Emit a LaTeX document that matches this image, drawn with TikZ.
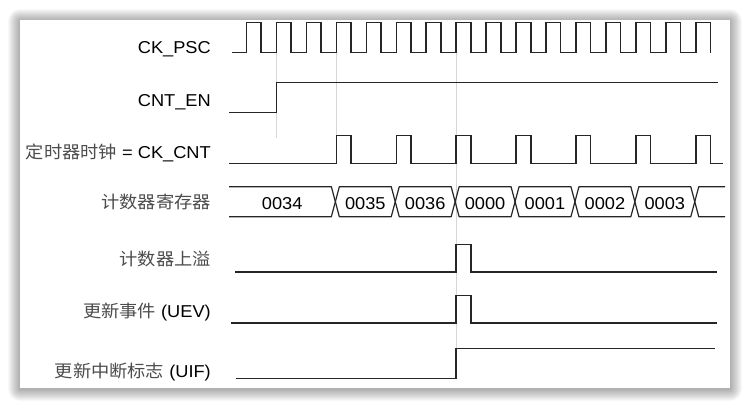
\documentclass[tikz,border=0pt]{standalone}
\usepackage{fontspec}
\setmainfont{Liberation Sans}
\newfontfamily\cjk{Noto Sans CJK SC}
\newcommand{\hsx}[1]{\scalebox{1.06}[1]{#1}}
\newcommand{\zh}[1]{{\color{black!70}\cjk #1}}
\begin{document}
\begin{tikzpicture}[x=1pt,y=-1pt,
  sig/.style={line width=1.5pt, draw=black!85},
  bus/.style={line width=1.2pt, draw=black!85, line join=round},
  guide/.style={line width=0.7pt, draw=black!16},
  lbl/.style={anchor=base east, inner sep=0pt, text=black, font=\fontsize{17.2}{19}\selectfont},
  val/.style={anchor=base, inner sep=0pt, text=black, font=\fontsize{17.2}{19}\selectfont}]
\useasboundingbox (0,0) rectangle (750,408);
\fill[white] (0,0) rectangle (750,408);
% soft shadow
\foreach \i in {1,...,12}{
  \fill[black,opacity=0.028,rounded corners=\i pt] ({20-\i},{21-\i}) rectangle ({730+\i},{389+\i});
}
\fill[white] (20,20) rectangle (730,388);

% guide lines
\draw[guide] (276.45,52.7) -- (276.45,138);
\draw[guide] (336.35,52.7) -- (336.35,135.7);
\draw[guide] (456.15,52.7) -- (456.15,378.3);

% labels
\node[lbl] (lpsc) at (211,53.3) {\hsx{CK\_PSC}};
\node[lbl] (len)  at (211,106) {\hsx{CNT\_EN}};
\node[lbl] (lcnt) at (211,158.3) {\hsx{\zh{定时器时钟} = CK\_CNT}};
\node[lbl] (lreg) at (211,208.8) {\hsx{\zh{计数器寄存器}}};
\node[lbl] (lovf) at (211,265.1) {\hsx{\zh{计数器上溢}}};
\node[lbl] (luev) at (211,317.3) {\hsx{\zh{更新事件} (UEV)}};
\node[lbl] (luif) at (211,377.7) {\hsx{\zh{更新中断标志} (UIF)}};

% CK_PSC
\draw[sig] (231.7,52.7)
  \foreach \k in {0,...,15}{
    -- ({246.5+29.95*\k},52.7) -- ({246.5+29.95*\k},22.7)
    -- ({261.2+29.95*\k},22.7) -- ({261.2+29.95*\k},52.7)
  };

% CNT_EN
\draw[sig] (229,112.7) -- (276.45,112.7) -- (276.45,82.7) -- (718.3,82.7);

% CK_CNT
\draw[sig] (229,163.3)
  \foreach \k in {3,5,...,15}{
    -- ({246.5+29.95*\k},163.3) -- ({246.5+29.95*\k},135.7)
    -- ({261.2+29.95*\k},135.7) -- ({261.2+29.95*\k},163.3)
  } -- (723.3,163.3);

% counter register bus
\draw[bus] (229,186.7) -- (331.35,186.7) -- (335.35,201.7) -- (331.35,216.7) -- (229,216.7);
\foreach \a/\b in {335.35/395.25, 395.25/455.15, 455.15/515.05, 515.05/574.95, 574.95/634.85, 634.85/694.75}{
  \draw[bus] (\a,201.7) -- ({\a+4},186.7) -- ({\b-4},186.7) -- (\b,201.7) -- ({\b-4},216.7) -- ({\a+4},216.7) -- cycle;
}
\draw[bus] (725,186.7) -- (698.75,186.7) -- (694.75,201.7) -- (698.75,216.7) -- (725,216.7);
\node[val] (v0) at (282.2,209) {\hsx{0034}};
\node[val] (v1) at (365.3,209) {\hsx{0035}};
\node[val] (v2) at (425.2,209) {\hsx{0036}};
\node[val] (v3) at (485.1,209) {\hsx{0000}};
\node[val] (v4) at (545.0,209) {\hsx{0001}};
\node[val] (v5) at (604.9,209) {\hsx{0002}};
\node[val] (v6) at (664.8,209) {\hsx{0003}};

% overflow
\draw[sig] (235,272) -- (456.15,272) -- (456.15,244.3) -- (470.9,244.3) -- (470.9,272) -- (717.3,272);
% UEV
\draw[sig] (231,323) -- (456.15,323) -- (456.15,295.3) -- (470.9,295.3) -- (470.9,323) -- (717.3,323);
% UIF
\draw[sig] (236,378.3) -- (456.15,378.3) -- (456.15,348.3) -- (715,348.3);
\end{tikzpicture}
\end{document}
